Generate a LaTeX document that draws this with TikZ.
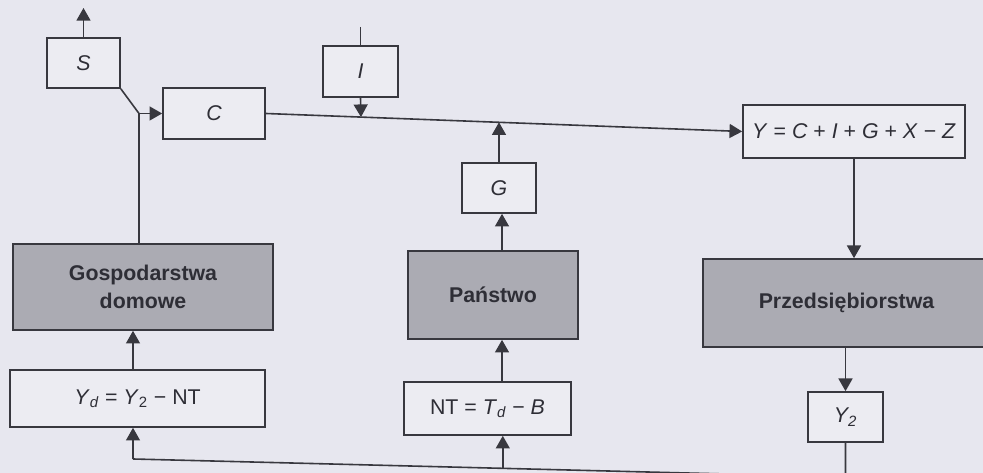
\documentclass[tikz,border=0pt]{standalone}
\usepackage{fontspec}
\setmainfont{Liberation Sans}
\usetikzlibrary{arrows.meta,calc}
\definecolor{bgc}{HTML}{E7E7EF}
\definecolor{boxc}{HTML}{ECECF2}
\definecolor{grayc}{HTML}{ABABB3}
\definecolor{linec}{HTML}{38383F}
\definecolor{textc}{HTML}{2E2E36}
\tikzset{
  box/.style={draw=linec, line width=1.25pt, fill=boxc, inner sep=0pt, text=textc,
    font=\fontsize{16pt}{19pt}\selectfont\itshape, align=center},
  bigbox/.style={draw=linec, line width=1.25pt, fill=grayc, inner sep=0pt, text=textc,
    font=\fontsize{16pt}{21pt}\selectfont\bfseries, align=center},
  conn/.style={draw=linec, line width=1.2pt},
  arr/.style={conn, -{Triangle[width=10.5pt,length=9.5pt]}}
}
\begin{document}
\begin{tikzpicture}[x={(0.75pt,0)}, y={(0,-0.75pt)}]
\useasboundingbox (0,0) rectangle (983,473);
\clip (0,0) rectangle (983,473);
\fill[bgc] (0,0) rectangle (983,473);

% small boxes
\node[box, minimum width=54.75pt, minimum height=37.5pt] (S) at (83.5,63) {S};
\node[box, minimum width=76.5pt, minimum height=38.25pt] (C) at (214,113.5) {C};
\node[box, minimum width=56.25pt, minimum height=38.25pt] (I) at (360.5,71.5) {I};
\node[box, minimum width=55.5pt, minimum height=37.5pt] (G) at (499,188) {G};
\node[box, minimum width=166.5pt, minimum height=39.75pt, font=\fontsize{16pt}{19pt}\selectfont] (Y) at (854,131.5)
  {\textit{Y} = \textit{C} + \textit{I} + \textit{G} + \textit{X} − \textit{Z}};
\node[box, minimum width=191.25pt, minimum height=42.75pt, font=\fontsize{16pt}{19pt}\selectfont] (Yd) at (137.5,398.5)
  {\textit{Y}\textsubscript{\textit{d}} = \textit{Y}\textsubscript{2} − NT};
\node[box, minimum width=125.25pt, minimum height=39.75pt, font=\fontsize{16pt}{19pt}\selectfont] (NT) at (487.5,408.5)
  {NT = \textit{T}\textsubscript{\textit{d}} − \textit{B}};
\node[box, minimum width=56.25pt, minimum height=37.5pt] (Y2) at (845.5,417) {Y\textsubscript{2}};

% big grey boxes
\node[bigbox, minimum width=195pt, minimum height=64.5pt] (Gosp) at (143,287) {Gospodarstwa\\domowe};
\node[bigbox, minimum width=127.5pt, minimum height=66pt] (Pan) at (493,295) {Państwo};
\node[bigbox, minimum width=215.25pt, minimum height=66pt] (Prz) at (846.5,303) {Przedsiębiorstwa};

% coordinates
\coordinate (Sout) at (83.5,8);
\coordinate (J1) at (139,113.5);
\coordinate (Itop) at (360.5,27);
\coordinate (mI) at ($(C.east)!0.1998!(Y.west)$);
\coordinate (mG) at ($(C.east)!0.4895!(Y.west)$);
\coordinate (colP) at (502,0);
\coordinate (BR) at (845.5,477);
\coordinate (BL) at (133,459);
\coordinate (BN) at ($(BR)!0.481!(BL)$);

% connectors
\draw[arr] (S.north) -- (Sout);
\draw[conn] (S.south east) -- (J1);
\draw[arr] (J1) -- (C.west);
\draw[conn] (J1 |- Gosp.north) -- (J1);
\draw[conn] (Itop) -- (I.north);
\draw[arr] (I.south) -- (mI);
\draw[arr] (C.east) -- (Y.west);
\draw[arr] (G.north) -- (mG);
\draw[arr] (colP |- Pan.north) -- (colP |- G.south);
\draw[arr] (colP |- NT.north) -- (colP |- Pan.south);
\draw[arr] (Y.south) -- (Y.south |- Prz.north);
\draw[arr] (Y2.north |- Prz.south) -- (Y2.north);
\draw[conn] (Y2.south) -- (BR) -- (BL);
\draw[arr] (BL) -- (BL |- Yd.south);
\draw[arr] (BN) -- (BN |- NT.south);
\draw[arr] (BL |- Yd.north) -- (BL |- Gosp.south);
\end{tikzpicture}
\end{document}
